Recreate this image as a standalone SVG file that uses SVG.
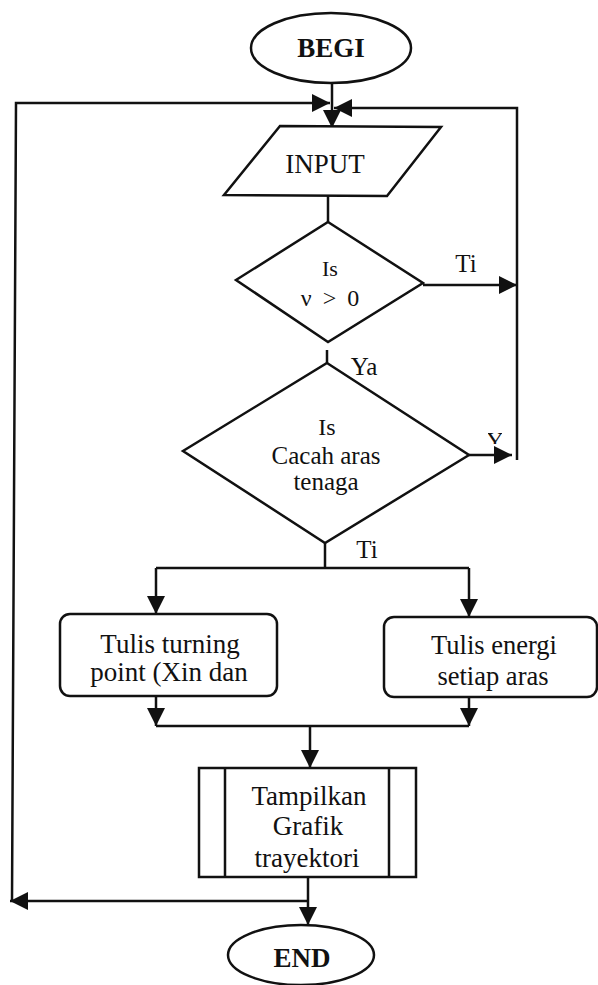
<svg xmlns="http://www.w3.org/2000/svg" width="598" height="985" viewBox="0 0 598 985">
<defs>
<marker id="ah" markerUnits="userSpaceOnUse" markerWidth="20" markerHeight="20" refX="18" refY="9" orient="auto"><path d="M0,0 L18,9 L0,18 Z" fill="#111"/></marker>
<clipPath id="yclip"><rect x="488" y="420" width="14" height="24"/></clipPath>
</defs>
<style>
.s{fill:none;stroke:#111;stroke-width:2.5}
.n{fill:#fff;stroke:#111;stroke-width:2.5}
text{font-family:"Liberation Serif","Times New Roman",serif;fill:#111;text-anchor:middle;font-size:27px}
.b{font-weight:bold}
</style>
<rect width="598" height="985" fill="#fff"/>
<g id="connectors">
<path class="s" d="M332,83 V128" marker-end="url(#ah)"/>
<path class="s" d="M308,901 H10" marker-end="url(#ah)"/>
<path class="s" d="M12,901 L16,103 H330" marker-end="url(#ah)"/>
<path class="s" d="M517,460 V108 H334" marker-end="url(#ah)"/>
<path class="s" d="M423,285 H517" marker-end="url(#ah)"/>
<path class="s" d="M469,455 H512" marker-end="url(#ah)"/>
<path class="s" d="M328,196 V222"/>
<path class="s" d="M327,350 V363"/>
<path class="s" d="M325,543 V568"/>
<path class="s" d="M156,568 H469"/>
<path class="s" d="M156,568 V614" marker-end="url(#ah)"/>
<path class="s" d="M469,568 V617" marker-end="url(#ah)"/>
<path class="s" d="M156,696 V726" marker-end="url(#ah)"/>
<path class="s" d="M469,697 V726" marker-end="url(#ah)"/>
<path class="s" d="M156,726 H469"/>
<path class="s" d="M310,726 V768" marker-end="url(#ah)"/>
<path class="s" d="M308,877 V925" marker-end="url(#ah)"/>
<text x="466" y="272" style="font-size:25px">Ti</text>
<text x="364" y="375" style="font-size:25px">Ya</text>
<text x="495" y="448" style="font-size:24px" clip-path="url(#yclip)">Y</text>
<text x="367" y="558" style="font-size:25px">Ti</text>
</g>
<g id="begin">
<ellipse class="n" cx="331" cy="48" rx="80" ry="35"/>
<text class="b" x="331" y="57">BEGI</text>
</g>
<g id="input">
<polygon class="n" points="280,126 441,127 387,196 224,195"/>
<text x="325" y="173">INPUT</text>
</g>
<g id="decision1">
<polygon class="n" points="328,222 423,283 328,342 236,280"/>
<text x="330" y="276" style="font-size:22px">Is</text>
<text x="330" y="306" style="font-size:24px;word-spacing:5px">ν &gt; 0</text>
</g>
<g id="decision2">
<polygon class="n" points="327,363 469,455 325,543 183,451"/>
<text x="327" y="435" style="font-size:24px">Is</text>
<text x="326" y="464" style="font-size:25px">Cacah aras</text>
<text x="326" y="490" style="font-size:25px">tenaga</text>
</g>
<g id="turning">
<rect class="n" x="60" y="614" width="217" height="82" rx="10"/>
<text x="170" y="653">Tulis turning</text>
<text x="169" y="681">point (Xin dan</text>
</g>
<g id="energi">
<rect class="n" x="384" y="617" width="213" height="80" rx="10"/>
<text x="494" y="654" style="font-size:26.5px">Tulis energi</text>
<text x="493" y="685" style="font-size:26.5px">setiap aras</text>
</g>
<g id="tampilkan">
<rect class="n" x="199" y="768" width="217" height="109"/>
<path class="s" d="M225,768 V877 M389,768 V877"/>
<text x="309" y="805">Tampilkan</text>
<text x="308" y="835">Grafik</text>
<text x="307" y="867">trayektori</text>
</g>
<g id="end">
<ellipse class="n" cx="301" cy="955" rx="73" ry="30"/>
<text class="b" x="302" y="967">END</text>
</g>
</svg>
